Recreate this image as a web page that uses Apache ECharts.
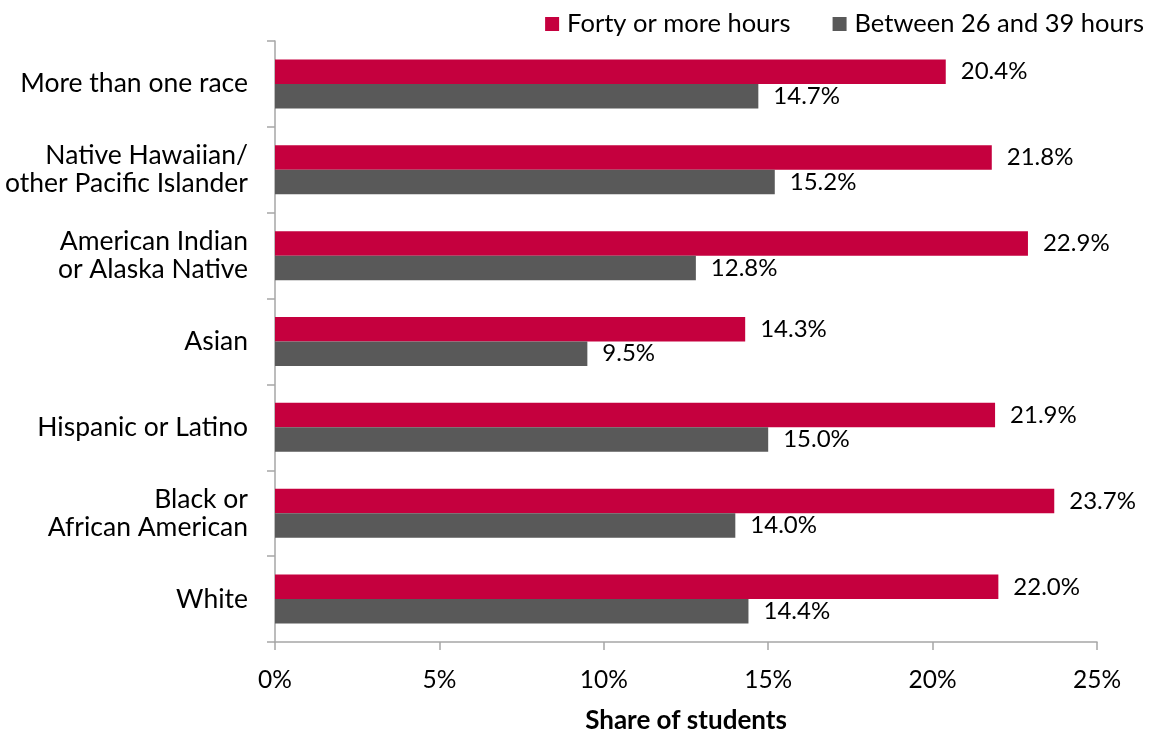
<!DOCTYPE html>
<html>
<head>
<meta charset="utf-8">
<script src="https://cdn.jsdelivr.net/npm/echarts@6/dist/echarts.min.js"></script>
<style>
html,body{margin:0;padding:0;background:#fff;}
#chart{width:1151px;height:731px;}
</style>
</head>
<body>
<div id="chart"></div>
<script>
var categories=["More than one race","Native Hawaiian/\nother Pacific Islander","American Indian\nor Alaska Native","Asian","Hispanic or Latino","Black or\nAfrican American","White"];
var fortyPlus=[20.4,21.8,22.9,14.3,21.9,23.7,22.0];
var between26and39=[14.7,15.2,12.8,9.5,15.0,14.0,14.4];
var xTicks=[0,5,10,15,20,25];

var font="Lato";
var chart=echarts.init(document.getElementById("chart"));

var labelOpt={
	show:true,
	position:"right",
	distance:15,
	color:"#000",
	fontFamily:font,
	fontSize:24,
	formatter:function(p){return p.value.toFixed(1)+"%";}
};

var option={
	animation:false,
	textStyle:{fontFamily:font},
	legend:{
		top:6,
		right:2,
		itemWidth:14,
		itemHeight:14,
		itemGap:42,
		icon:"rect",
		textStyle:{fontSize:25.5,color:"#000",fontFamily:font,padding:[0,0,0,3]},
		data:["Forty or more hours","Between 26 and 39 hours"]
	},
	grid:{left:275,right:54,top:41,bottom:89,outerBoundsMode:"none"},
	xAxis:{
		type:"value",
		min:xTicks[0],
		max:xTicks[xTicks.length-1],
		interval:5,
		name:"Share of students",
		nameLocation:"middle",
		nameGap:66,
		nameTextStyle:{fontSize:26,fontWeight:"bold",color:"#000",fontFamily:font},
		axisLine:{show:true,lineStyle:{color:"#a6a6a6",width:1.5}},
		axisTick:{show:true,length:8,lineStyle:{color:"#a6a6a6",width:1.5}},
		axisLabel:{fontSize:24.5,color:"#000",margin:26,formatter:"{value}%"},
		splitLine:{show:false}
	},
	yAxis:{
		type:"category",
		inverse:true,
		data:categories,
		axisLine:{show:true,lineStyle:{color:"#a6a6a6",width:1.5}},
		axisTick:{show:true,length:8,lineStyle:{color:"#a6a6a6",width:1.5}},
		axisLabel:{fontSize:26.5,color:"#000",margin:27,lineHeight:28,align:"right"}
	},
	series:[
		{
			name:"Forty or more hours",
			type:"bar",
			data:fortyPlus,
			barWidth:24.5,
			barGap:"0%",
			itemStyle:{color:"#c5003e"},
			label:labelOpt
		},
		{
			name:"Between 26 and 39 hours",
			type:"bar",
			data:between26and39,
			barWidth:24.5,
			barGap:"0%",
			itemStyle:{color:"#595959"},
			label:labelOpt
		}
	]
};
chart.setOption(option);
</script>
</body>
</html>
